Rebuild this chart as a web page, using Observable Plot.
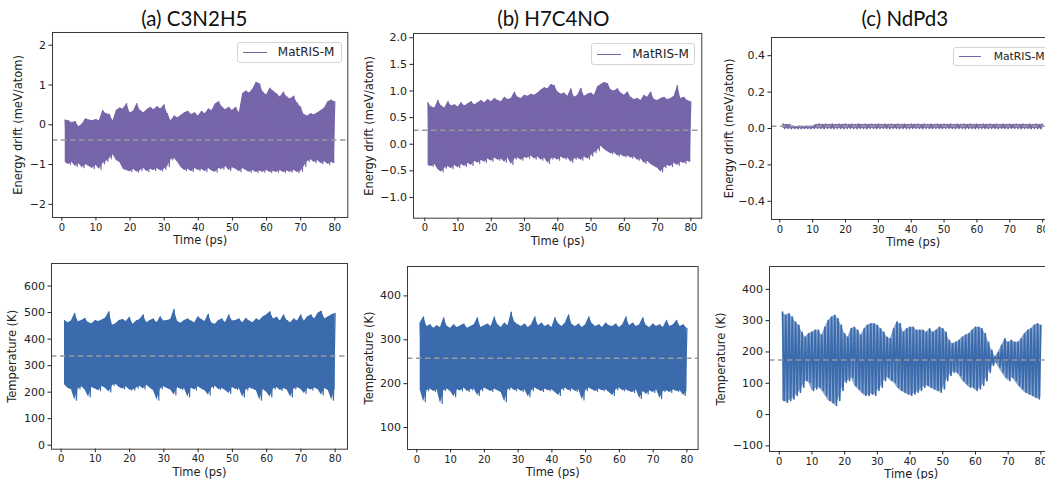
<!DOCTYPE html>
<html><head><meta charset="utf-8">
<script src="https://cdn.jsdelivr.net/npm/d3@7"></script>
<script src="https://cdn.jsdelivr.net/npm/@observablehq/plot@0.6"></script>
<style>
html,body{margin:0;padding:0;background:#fff;overflow:hidden;width:1045px;height:479px}
#root{position:relative;width:1045px;height:479px;overflow:hidden}
.panel{position:absolute}
.title{position:absolute;font-family:Lato,"Open Sans",sans-serif;font-size:20.5px;color:#111;transform:translate(-50%,-50%);white-space:nowrap}
.legend{position:absolute;border:1px solid #d4d4d4;border-radius:3px;background:rgba(255,255,255,0.85);font-family:"DejaVu Sans";color:#222;box-sizing:border-box}
.legend .sw{position:absolute;top:50%;height:0;border-top:1.5px solid #7765a9}
.legend .lb{position:absolute;top:50%;transform:translateY(-50%);white-space:nowrap}
</style></head><body><div id="root"></div><script>
// ---------- data ----------
const titles = ["(a) C3N2H5", "(b) H7C4NO", "(c) NdPd3"];
const seriesName = "MatRIS-M";
const time = [1,2,3,4,5,6,7,8,9,10,11,12,13,14,15,16,17,18,19,20,21,22,23,24,25,26,27,28,29,30,31,32,33,34,35,36,37,38,39,40,41,42,43,44,45,46,47,48,49,50,51,52,53,54,55,56,57,58,59,60,61,62,63,64,65,66,67,68,69,70,71,72,73,74,75,76,77,78,79,80];
const xTicks = [0,10,20,30,40,50,60,70,80];

// Energy drift (meV/atom): upper / lower envelope per ps
const energyA_hi = [0.12,0.10,0.05,0.08,-0.05,0.02,0.15,0.12,0.10,0.13,0.10,0.36,0.28,0.26,0.10,0.36,0.42,0.40,0.53,0.30,0.34,0.53,0.36,0.30,0.38,0.44,0.38,0.46,0.40,0.50,0.28,0.10,0.22,0.18,0.24,0.30,0.34,0.26,0.30,0.22,0.34,0.28,0.40,0.36,0.52,0.58,0.45,0.38,0.44,0.36,0.44,0.30,0.78,0.85,0.80,0.90,1.07,1.03,0.82,0.75,0.92,0.85,0.78,0.70,0.82,0.70,0.65,0.72,0.55,0.45,0.26,0.22,0.28,0.25,0.30,0.36,0.42,0.58,0.62,0.58];
const energyA_lo = [-0.95,-1.00,-0.95,-1.05,-0.98,-1.08,-1.00,-1.05,-1.10,-1.02,-1.12,-0.98,-0.92,-0.85,-0.75,-0.90,-0.95,-1.12,-1.15,-1.18,-1.12,-1.19,-1.15,-1.10,-1.18,-1.12,-1.15,-1.10,-1.16,-1.12,-1.05,-0.88,-0.85,-0.95,-1.08,-1.15,-1.12,-1.18,-1.10,-1.15,-1.12,-1.18,-1.10,-1.16,-1.19,-1.10,-1.12,-1.05,-1.15,-1.08,-1.12,-1.18,-1.10,-1.15,-1.19,-1.15,-1.20,-1.16,-1.19,-1.14,-1.20,-1.17,-1.19,-1.15,-1.20,-1.16,-1.19,-1.14,-1.20,-1.17,-1.05,-0.92,-0.88,-0.95,-0.90,-0.98,-0.92,-1.00,-0.94,-0.98];
const energyB_hi = [0.78,0.70,0.68,0.82,0.72,0.68,0.80,0.72,0.74,0.70,0.78,0.72,0.76,0.80,0.74,0.78,0.82,0.78,0.84,0.80,0.86,0.82,0.80,0.88,0.84,0.86,0.98,0.88,0.86,0.92,0.90,0.94,0.92,0.96,1.02,1.06,1.04,1.12,1.10,0.98,0.94,0.96,0.90,1.04,0.88,0.92,1.05,0.90,0.94,0.96,0.92,1.08,1.12,1.16,1.14,1.02,1.00,1.04,0.96,0.92,0.98,0.88,0.84,0.86,0.82,0.92,0.88,0.98,0.84,0.82,0.86,0.88,0.84,0.86,0.90,1.10,0.86,0.88,0.82,0.80];
const energyB_lo = [-0.40,-0.42,-0.38,-0.48,-0.52,-0.45,-0.42,-0.46,-0.40,-0.44,-0.38,-0.42,-0.36,-0.40,-0.32,-0.36,-0.30,-0.34,-0.28,-0.32,-0.26,-0.30,-0.28,-0.34,-0.26,-0.38,-0.28,-0.26,-0.30,-0.25,-0.26,-0.22,-0.28,-0.24,-0.30,-0.26,-0.36,-0.28,-0.26,-0.30,-0.24,-0.28,-0.26,-0.34,-0.28,-0.26,-0.30,-0.24,-0.28,-0.22,-0.16,-0.12,-0.04,-0.10,-0.14,-0.18,-0.16,-0.22,-0.20,-0.24,-0.22,-0.26,-0.24,-0.30,-0.28,-0.36,-0.32,-0.38,-0.42,-0.45,-0.52,-0.44,-0.40,-0.42,-0.36,-0.40,-0.34,-0.36,-0.32,-0.34];
const energyC_hi = [0.024,0.022,0.022,0.012,0.010,0.012,0.010,0.012,0.011,0.012,0.022,0.024,0.022,0.023,0.022,0.024,0.022,0.023,0.022,0.024,0.022,0.023,0.022,0.024,0.022,0.023,0.022,0.023,0.022,0.023,0.022,0.023,0.022,0.023,0.022,0.023,0.022,0.023,0.022,0.023,0.022,0.023,0.022,0.023,0.022,0.023,0.022,0.023,0.022,0.023,0.022,0.023,0.022,0.023,0.022,0.023,0.022,0.023,0.022,0.023,0.022,0.023,0.022,0.023,0.022,0.023,0.022,0.023,0.022,0.023,0.022,0.023,0.022,0.023,0.022,0.023,0.022,0.023,0.022,0.023];
const energyC_lo = [0.000,0.000,-0.001,0.000,0.000,-0.001,0.000,0.000,-0.001,0.000,0.000,0.000,-0.001,0.000,0.000,-0.001,0.000,0.000,-0.001,0.000,0.000,0.000,-0.001,0.000,0.000,-0.001,0.000,0.000,-0.001,0.000,0.000,0.000,-0.001,0.000,0.000,-0.001,0.000,0.000,-0.001,0.000,0.000,0.000,-0.001,0.000,0.000,-0.001,0.000,0.000,-0.001,0.000,0.000,0.000,-0.001,0.000,0.000,-0.001,0.000,0.000,-0.001,0.000,0.000,0.000,-0.001,0.000,0.000,-0.001,0.000,0.000,-0.001,0.000,0.000,0.000,-0.001,0.000,0.000,-0.001,0.000,0.000,-0.001,0.000];
const energyMeans = [-0.38, 0.26, 0.012];

// Temperature (K): upper / lower envelope per ps
const tempA_hi = [470,462,468,497,465,470,478,462,458,470,466,472,480,503,452,458,470,474,466,482,456,468,474,491,462,470,476,462,484,468,470,474,512,466,460,470,476,468,462,484,474,466,494,460,456,470,476,462,491,468,470,476,462,478,468,462,476,470,484,491,503,476,482,468,491,470,462,476,468,491,468,484,491,476,497,505,476,484,491,497];
const tempA_lo = [228,215,210,170,212,220,208,182,218,212,205,222,214,201,225,230,218,212,220,208,208,216,222,212,226,215,205,170,212,220,214,208,189,218,210,214,182,216,208,220,212,205,189,216,222,210,214,206,195,218,210,214,182,208,216,212,205,170,210,200,182,212,218,206,214,208,182,212,218,210,195,214,208,216,210,189,214,206,170,212];
const tempB_hi = [338,352,330,334,326,332,328,350,330,326,334,328,332,336,326,330,334,350,328,332,336,330,352,334,328,338,332,363,340,334,330,336,328,334,352,332,338,330,334,328,350,336,330,338,357,334,330,336,328,334,352,336,330,334,328,338,332,330,336,328,334,352,332,338,330,334,350,332,328,336,330,334,328,344,330,334,344,330,334,326];
const tempB_lo = [186,159,184,188,182,186,155,184,188,182,170,186,184,190,182,186,188,173,184,190,186,182,188,184,180,159,186,190,184,188,182,186,170,184,190,186,182,188,184,186,180,173,186,190,184,188,182,186,163,184,190,186,182,188,184,186,180,173,186,190,184,186,182,180,186,166,182,176,184,180,186,166,182,184,180,186,182,184,173,182];
const tempC_hi = [327,317,322,311,295,285,263,247,258,263,269,269,253,279,300,311,317,306,285,258,247,274,279,269,253,274,285,290,290,285,274,263,247,242,274,295,290,263,274,279,279,269,269,269,263,274,263,269,279,274,263,237,226,231,237,247,253,258,269,279,279,274,258,231,205,185,199,221,242,231,237,231,231,242,258,269,274,285,290,285];
const tempC_lo = [45,39,45,50,61,71,87,108,103,77,82,87,77,61,45,39,29,45,77,103,108,119,93,82,71,61,61,66,61,77,87,108,119,108,103,87,77,71,66,61,66,71,77,87,93,87,82,77,71,82,108,125,135,135,125,108,98,87,87,77,82,93,108,135,157,168,152,135,119,108,119,108,93,82,71,66,61,55,50,55];
const tempMeans = [336, 258, 174];

// ---------- layout ----------
const purple = "#7765a9", blue = "#3b6bad";
const root = document.getElementById("root");
const f0 = d3.format("d"), f1 = d3.format(".1f");

function addPanel(o) {
  const mL = 62, mR = 2, mT = 4, mB = 38;
  const rows = time.map((t, i) => ({t, hi: o.hi[i], lo: o.lo[i]}));
  const zig = [];
  time.forEach((t, i) => {
    zig.push({t, v: o.hi[i]});
    if (i < time.length - 1) zig.push({t: t + 0.5, v: o.lo[i]});
  });
  const fw = o.R - o.L, fh = o.B - o.T;
  const svg = Plot.plot({
    width: mL + fw + mR, height: mT + fh + mB,
    marginLeft: mL, marginRight: mR, marginTop: mT, marginBottom: mB,
    style: {fontFamily: "DejaVu Sans", color: "#222", background: "transparent", overflow: "visible"},
    x: {domain: o.xDomain},
    y: {domain: o.yDomain},
    marks: [
      Plot.areaY(rows, {x: "t", y1: "lo", y2: "hi", fill: o.color, fillOpacity: o.fillOpacity}),
      Plot.line(zig, {x: "t", y: "v", stroke: o.color, strokeWidth: o.sw}),
      Plot.ruleY([o.mean], {stroke: "#9a9a9a", strokeWidth: 1.5, strokeDasharray: "5.5,3.5"}),
      Plot.frame({stroke: "#3a3a3a", strokeWidth: 1}),
      Plot.axisX({ticks: xTicks, tickSize: 3.5, tickPadding: 2.5, fontSize: 10, label: null, tickFormat: f0}),
      Plot.axisY({ticks: o.yTicks, tickSize: 3.5, tickPadding: 3, fontSize: 11, label: null, tickFormat: o.fmt}),
      Plot.text(["Time (ps)"], {text: d => d, frameAnchor: "bottom", dy: 23, fontSize: 11.5, textAnchor: "middle", lineAnchor: "middle"}),
      Plot.text([o.yLabel], {text: d => d, frameAnchor: "left", dx: -o.yOff, rotate: -90, fontSize: 11.5, textAnchor: "middle", lineAnchor: "middle"})
    ]
  });
  svg.classList.add("panel");
  svg.style.left = (o.L - mL) + "px";
  svg.style.top = (o.T - mT) + "px";
  root.appendChild(svg);
}

const eLab = "Energy drift (meV/atom)", tLab = "Temperature (K)";
addPanel({L: 51.7, R: 347, T: 32, B: 217, xDomain: [-2.73, 83.8], yDomain: [-2.33, 2.32], yTicks: [-2,-1,0,1,2], fmt: f0, yLabel: eLab, yOff: 34, hi: energyA_hi, lo: energyA_lo, mean: energyMeans[0], color: purple, fillOpacity: 1, sw: 1.2});
addPanel({L: 412.7, R: 701, T: 33.3, B: 218, xDomain: [-3.4, 83.3], yDomain: [-1.39, 2.08], yTicks: [-1,-0.5,0,0.5,1,1.5,2], fmt: f1, yLabel: eLab, yOff: 44.5, hi: energyB_hi, lo: energyB_lo, mean: energyMeans[1], color: purple, fillOpacity: 1, sw: 1.2});
addPanel({L: 770.7, R: 1054, T: 37.3, B: 219.3, xDomain: [-2.53, 83.7], yDomain: [-0.5, 0.5], yTicks: [-0.4,-0.2,0,0.2,0.4], fmt: f1, yLabel: eLab, yOff: 42.5, hi: energyC_hi, lo: energyC_lo, mean: energyMeans[2], color: purple, fillOpacity: 0.8, sw: 1.5});
addPanel({L: 50.7, R: 346.7, T: 263.3, B: 449, xDomain: [-2.8, 83.6], yDomain: [-15, 685], yTicks: [0,100,200,300,400,500,600], fmt: f0, yLabel: tLab, yOff: 39, hi: tempA_hi, lo: tempA_lo, mean: tempMeans[0], color: blue, fillOpacity: 1, sw: 1.2});
addPanel({L: 406.7, R: 697.3, T: 266, B: 449, xDomain: [-2.76, 83.3], yDomain: [50, 467], yTicks: [100,200,300,400], fmt: f0, yLabel: tLab, yOff: 38.5, hi: tempB_hi, lo: tempB_lo, mean: tempMeans[1], color: blue, fillOpacity: 1, sw: 1.2});
addPanel({L: 769.3, R: 1052.8, T: 266, B: 451, xDomain: [-2.97, 83.7], yDomain: [-118, 473], yTicks: [-100,0,100,200,300,400], fmt: f0, yLabel: tLab, yOff: 48.5, hi: tempC_hi, lo: tempC_lo, mean: tempMeans[2], color: blue, fillOpacity: 0.6, sw: 1.7});

// titles
[[194.3, 18], [553.3, 18], [904.8, 18]].forEach(([x, y], i) => {
  const d = document.createElement("div");
  d.className = "title"; d.textContent = titles[i];
  d.style.left = x + "px"; d.style.top = y + "px";
  root.appendChild(d);
});
// legends: [left, top, width, height, fontSize, lineLeft, lineWidth, textLeft]
[[237.3, 41.7, 104.5, 21.5, 12, 5, 24, 39.5],
 [590.7, 43.3, 104.5, 21.5, 12, 5, 24, 40.5],
 [952.7, 46.5, 100, 19.5, 10.8, 5, 22, 40]].forEach(([x, y, w, h, fs, ll, lw, tl]) => {
  const d = document.createElement("div");
  d.className = "legend";
  d.style.left = x + "px"; d.style.top = y + "px";
  d.style.width = w + "px"; d.style.height = h + "px"; d.style.fontSize = fs + "px";
  d.innerHTML = '<span class="sw" style="left:' + ll + 'px;width:' + lw + 'px"></span><span class="lb" style="left:' + tl + 'px">' + seriesName + '</span>';
  root.appendChild(d);
});
</script></body></html>
